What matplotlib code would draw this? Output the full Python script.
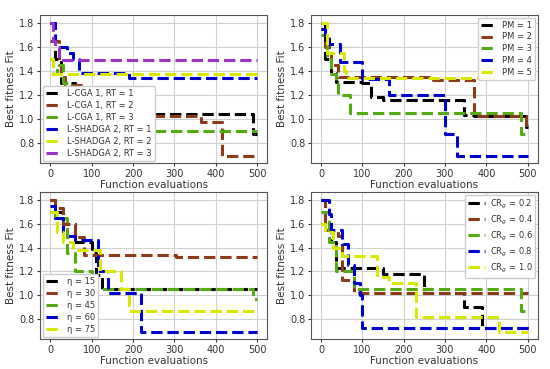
import matplotlib
matplotlib.use('Agg')
import matplotlib.pyplot as plt

colors = ['#000000', '#8b3a1a', '#55aa11', '#0000cc', '#d8e800', '#9933cc']

# panel 1: RT
rt_labels = ['L-CGA 1, RT = 1', 'L-CGA 1, RT = 2', 'L-CGA 1, RT = 3',
             'L-SHADGA 2, RT = 1', 'L-SHADGA 2, RT = 2', 'L-SHADGA 2, RT = 3']
rt_x = [
    [0, 10, 25, 60, 490, 500],
    [0, 20, 25, 35, 80, 110, 200, 365, 415, 500],
    [0, 5, 15, 30, 50, 70, 110, 500],
    [0, 10, 40, 55, 70, 190, 500],
    [0, 5, 10, 500],
    [0, 5, 10, 20, 70, 500],
]
rt_y = [
    [1.8, 1.5, 1.3, 1.04, 0.87, 0.87],
    [1.65, 1.45, 1.35, 1.28, 1.2, 1.04, 1.02, 0.97, 0.69, 0.69],
    [1.5, 1.37, 1.45, 1.3, 1.25, 0.9, 0.9, 0.9],
    [1.8, 1.6, 1.55, 1.5, 1.38, 1.34, 1.34],
    [1.5, 1.37, 1.37, 1.37],
    [1.8, 1.65, 1.6, 1.49, 1.49, 1.49],
]

# panel 2: PM
pm_labels = ['PM = 1', 'PM = 2', 'PM = 3', 'PM = 4', 'PM = 5']
pm_x = [
    [0, 10, 25, 35, 100, 120, 150, 345, 370, 495, 500],
    [0, 10, 25, 40, 270, 370, 495, 500],
    [0, 15, 25, 35, 40, 70, 485, 500],
    [0, 10, 20, 45, 100, 165, 300, 330, 500],
    [0, 15, 55, 60, 500],
]
pm_y = [
    [1.8, 1.5, 1.38, 1.31, 1.3, 1.18, 1.16, 1.03, 1.02, 0.93, 0.93],
    [1.75, 1.6, 1.45, 1.35, 1.32, 1.02, 0.95, 0.95],
    [1.7, 1.5, 1.37, 1.32, 1.2, 1.05, 0.87, 0.87],
    [1.75, 1.7, 1.62, 1.47, 1.33, 1.2, 0.87, 0.69, 0.69],
    [1.8, 1.55, 1.4, 1.34, 1.34],
]

# panel 3: eta
eta_labels = ['\u03b7 = 15', '\u03b7 = 30', '\u03b7 = 45', '\u03b7 = 60', '\u03b7 = 75']
eta_x = [
    [0, 10, 30, 60, 100, 110, 125, 495, 500],
    [0, 10, 30, 60, 80, 305, 500],
    [0, 10, 40, 60, 100, 490, 500],
    [0, 10, 30, 60, 115, 140, 220, 500],
    [0, 15, 30, 55, 120, 170, 190, 500],
]
eta_y = [
    [1.8, 1.7, 1.6, 1.45, 1.35, 1.17, 1.05, 1.05, 1.05],
    [1.8, 1.73, 1.6, 1.49, 1.34, 1.32, 1.32],
    [1.7, 1.65, 1.35, 1.2, 1.05, 0.97, 0.97],
    [1.75, 1.65, 1.5, 1.46, 1.2, 1.02, 0.69, 0.69],
    [1.7, 1.53, 1.45, 1.38, 1.2, 1.05, 0.87, 0.87],
]

# panel 4: CRg
cr_labels = ['CR$_g$ = 0.2', 'CR$_g$ = 0.4', 'CR$_g$ = 0.6', 'CR$_g$ = 0.8', 'CR$_g$ = 1.0']
cr_x = [
    [0, 10, 25, 35, 150, 250, 345, 390, 500],
    [0, 10, 40, 50, 80, 500],
    [0, 20, 35, 80, 485, 500],
    [0, 20, 25, 50, 65, 80, 95, 100, 500],
    [0, 10, 30, 50, 135, 165, 230, 430, 500],
]
cr_y = [
    [1.8, 1.6, 1.45, 1.23, 1.18, 1.02, 0.9, 0.72, 0.72],
    [1.8, 1.55, 1.5, 1.13, 1.02, 1.02],
    [1.7, 1.45, 1.2, 1.05, 0.87, 0.87],
    [1.8, 1.68, 1.55, 1.43, 1.25, 1.1, 1.0, 0.72, 0.72],
    [1.6, 1.53, 1.4, 1.33, 1.15, 1.1, 0.82, 0.69, 0.69],
]

panels = [
    (rt_x, rt_y, rt_labels, 'lower left', [0.073, 0.558, 0.413, 0.401]),
    (pm_x, pm_y, pm_labels, 'upper right', [0.565, 0.558, 0.413, 0.401]),
    (eta_x, eta_y, eta_labels, 'lower left', [0.073, 0.081, 0.413, 0.398]),
    (cr_x, cr_y, cr_labels, 'upper right', [0.565, 0.081, 0.413, 0.398]),
]

fig = plt.figure(figsize=(5.5, 3.69), dpi=100)
for xs, ys, labels, loc, pos in panels:
    ax = fig.add_axes(pos)
    for i, lab in enumerate(labels):
        ax.plot(xs[i], ys[i], drawstyle='steps-post', linestyle='--',
                linewidth=2.2, color=colors[i], label=lab)
    ax.set_xlim(-25, 525)
    ax.set_ylim(0.63, 1.865)
    ax.set_xticks([0, 100, 200, 300, 400, 500])
    ax.set_yticks([0.8, 1.0, 1.2, 1.4, 1.6, 1.8])
    ax.grid(True, color='#d0d0d0', linewidth=0.8)
    ax.set_axisbelow(True)
    for s in ax.spines.values():
        s.set_color('#555555')
        s.set_linewidth(0.8)
    ax.tick_params(labelsize=7, colors='#333333', length=2, pad=2)
    ax.set_xlabel('Function evaluations', fontsize=7.5, color='#333333', labelpad=1)
    ax.set_ylabel('Best fitness Fit', fontsize=7.5, color='#333333', labelpad=2)
    leg = ax.legend(loc=loc, fontsize=6, handlelength=2.0, handletextpad=0.6,
                    borderpad=0.35, labelspacing=0.35, framealpha=1,
                    edgecolor='#cccccc', borderaxespad=0.3)
    for t in leg.get_texts():
        t.set_color('#333333')

fig.savefig('out.png', dpi=100)
